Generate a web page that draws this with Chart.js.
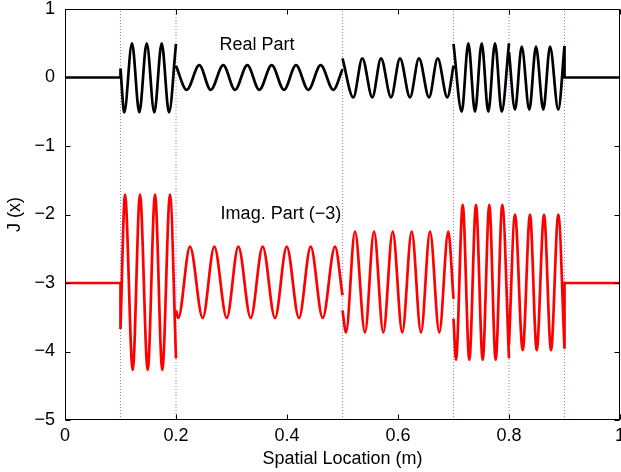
<!DOCTYPE html>
<html>
<head>
<meta charset="utf-8">
<script src="https://cdn.jsdelivr.net/npm/chart.js@4.4.1/dist/chart.umd.min.js"></script>
<style>
html, body { margin: 0; padding: 0; background: #fff; }
canvas { display: block; }
</style>
</head>
<body>
<canvas id="c" width="621" height="472"></canvas>
<script>
// ---- data ----
const xTicks = [0, 0.2, 0.4, 0.6, 0.8, 1];
const yTicks = [-5, -4, -3, -2, -1, 0, 1];
const boundaries = [0.1, 0.2, 0.5, 0.7, 0.8, 0.9];

// Real part: segments (x of read extrema / segment ends)
const realX = [
  [0, 0.1, 0.1],
  [0.1, 0.1068, 0.1207, 0.1339, 0.1472, 0.1609, 0.1742, 0.1874, 0.2],
  [0.2, 0.2193, 0.2420, 0.2625, 0.2852, 0.3063, 0.3285, 0.3501, 0.3724, 0.3946, 0.4162, 0.4384, 0.4607, 0.4834, 0.5],
  [0.5, 0.5195, 0.5357, 0.5537, 0.5694, 0.5874, 0.6036, 0.6216, 0.6378, 0.6559, 0.6715, 0.6888, 0.7],
  [0.7, 0.7148, 0.7267, 0.7387, 0.7508, 0.7627, 0.7748, 0.7869, 0.8],
  [0.8, 0.8108, 0.8229, 0.8366, 0.8486, 0.8618, 0.8739, 0.8888, 0.9],
  [0.9, 0.9, 1]
];
const realY = [
  [0, 0, 0.13],
  [0.13, -0.51, 0.50, -0.51, 0.50, -0.51, 0.50, -0.51, 0.49],
  [0.17, -0.18, 0.18, -0.18, 0.18, -0.18, 0.18, -0.18, 0.18, -0.18, 0.18, -0.18, 0.18, -0.18, 0.12],
  [0.28, -0.29, 0.28, -0.29, 0.28, -0.29, 0.28, -0.29, 0.28, -0.29, 0.28, -0.29, 0.17],
  [0.49, -0.50, 0.50, -0.50, 0.50, -0.50, 0.50, -0.50, 0.50],
  [0.37, -0.47, 0.45, -0.47, 0.45, -0.47, 0.45, -0.47, 0.46],
  [0.46, 0, 0]
];

// Imaginary part (shifted by -3)
const imagX = [
  [0, 0.1, 0.1],
  [0.1, 0.1081, 0.1220, 0.1351, 0.1490, 0.1622, 0.1753, 0.1892, 0.2],
  [0.2, 0.2041, 0.2252, 0.2481, 0.2690, 0.2914, 0.3123, 0.3346, 0.3562, 0.3784, 0.3995, 0.4216, 0.4427, 0.4643, 0.4865, 0.5],
  [0.5, 0.5063, 0.5225, 0.5405, 0.5568, 0.5735, 0.5905, 0.6077, 0.6247, 0.6414, 0.6577, 0.6744, 0.6906, 0.7],
  [0.7, 0.7045, 0.7166, 0.7285, 0.7405, 0.7526, 0.7645, 0.7760, 0.7879, 0.8],
  [0.8, 0.8108, 0.8247, 0.8378, 0.8499, 0.8631, 0.8757, 0.8888, 0.9],
  [0.9, 0.9, 1]
];
const imagY = [
  [-3, -3, -3.67],
  [-3.67, -1.71, -4.27, -1.71, -4.27, -1.71, -4.27, -1.71, -4.10],
  [-3.40, -3.51, -2.47, -3.51, -2.47, -3.51, -2.47, -3.51, -2.47, -3.51, -2.47, -3.51, -2.47, -3.51, -2.47, -3.18],
  [-3.40, -3.72, -2.25, -3.72, -2.25, -3.72, -2.25, -3.72, -2.25, -3.72, -2.25, -3.72, -2.25, -3.23],
  [-3.52, -4.12, -1.86, -4.12, -1.86, -4.12, -1.86, -4.12, -1.86, -4.10],
  [-3.90, -2.00, -3.98, -2.00, -3.98, -2.00, -3.98, -2.00, -3.96],
  [-3.96, -3, -3]
];

const notes = [
  { text: 'Real Part', x: 0.346, y: 0.47 },
  { text: 'Imag. Part (\u22123)', x: 0.389, y: -2.0 }
];

// ---- build library data ----
function joinSegments(xs, ys) {
  const out = [];
  xs.forEach((seg, s) => {
    if (s > 0) out.push({ x: seg[0], y: null });
    seg.forEach((x, i) => out.push({ x: x, y: ys[s][i] }));
  });
  return out;
}
const yMin = yTicks[0], yMax = yTicks[yTicks.length - 1];
const boundaryData = [];
boundaries.forEach((b, i) => {
  if (i) boundaryData.push({ x: b, y: null });
  boundaryData.push({ x: b, y: yMin }, { x: b, y: yMax });
});

const FONT = "'Liberation Sans', Arial, Helvetica, sans-serif";
const FS = 18;
const fmt = v => String(Math.round(v * 10) / 10).replace('-', '\u2212');

const framePlugin = {
  id: 'frame',
  afterDatasetsDraw(chart) {
    const { ctx, chartArea: a, scales: { x, y } } = chart;
    ctx.save();
    ctx.strokeStyle = '#000';
    ctx.lineWidth = 1;
    const L = Math.round(a.left) + 0.5, R = Math.round(a.right) - 0.5;
    const T = Math.round(a.top) + 0.5, B = Math.round(a.bottom) - 0.5;
    ctx.strokeRect(L, T, R - L, B - T);
    ctx.beginPath();
    xTicks.forEach(v => {
      const px = Math.round(x.getPixelForValue(v)) + 0.5;
      ctx.moveTo(px, B); ctx.lineTo(px, B - 5);
      ctx.moveTo(px, T); ctx.lineTo(px, T + 5);
    });
    yTicks.forEach(v => {
      const py = Math.round(y.getPixelForValue(v)) + 0.5;
      ctx.moveTo(L, py); ctx.lineTo(L + 5, py);
      ctx.moveTo(R, py); ctx.lineTo(R - 5, py);
    });
    ctx.stroke();
    ctx.fillStyle = '#000';
    ctx.font = FS + 'px ' + FONT;
    ctx.textAlign = 'center';
    ctx.textBaseline = 'middle';
    notes.forEach(n => ctx.fillText(n.text, x.getPixelForValue(n.x), y.getPixelForValue(n.y)));
    ctx.restore();
  }
};

new Chart(document.getElementById('c'), {
  type: 'line',
  data: {
    datasets: [
      {
        label: 'Real Part',
        data: joinSegments(realX, realY),
        borderColor: '#000000',
        borderWidth: 2.7,
        pointRadius: 0,
        fill: false,
        spanGaps: false,
        cubicInterpolationMode: 'monotone',
        order: 1
      },
      {
        label: 'Imag. Part (-3)',
        data: joinSegments(imagX, imagY),
        borderColor: '#ff0000',
        borderWidth: 2.7,
        pointRadius: 0,
        fill: false,
        spanGaps: false,
        cubicInterpolationMode: 'monotone',
        order: 2
      },
      {
        label: 'boundaries',
        data: boundaryData,
        borderColor: '#8080ff',
        borderWidth: 1,
        borderDash: [1, 2],
        pointRadius: 0,
        fill: false,
        spanGaps: false,
        tension: 0,
        order: 3
      }
    ]
  },
  options: {
    responsive: false,
    animation: false,
    devicePixelRatio: 1,
    layout: { padding: { top: 9, right: 1, left: 0, bottom: 0 } },
    plugins: { legend: { display: false }, tooltip: { enabled: false } },
    scales: {
      x: {
        type: 'linear',
        min: 0, max: 1,
        afterBuildTicks: s => { s.ticks = xTicks.map(v => ({ value: v })); },
        afterFit: s => { s.height = 52; s.paddingLeft = 0; s.paddingRight = 0; },
        grid: { display: false, drawTicks: false },
        border: { display: false },
        ticks: { padding: 5, color: '#000', font: { family: FONT, size: FS }, callback: fmt, maxRotation: 0, autoSkip: false },
        title: { display: true, text: 'Spatial Location (m)', color: '#000', font: { family: FONT, size: FS }, padding: { top: 0, bottom: 2 } }
      },
      y: {
        type: 'linear',
        min: yMin, max: yMax,
        afterBuildTicks: s => { s.ticks = yTicks.map(v => ({ value: v })); },
        afterFit: s => { s.width = 65; s.paddingTop = 0; s.paddingBottom = 0; },
        grid: { display: false, drawTicks: false },
        border: { display: false },
        ticks: { padding: 10, color: '#000', font: { family: FONT, size: FS }, callback: fmt, autoSkip: false },
        title: { display: true, text: 'J (x)', color: '#000', font: { family: FONT, size: FS }, padding: { top: 4, bottom: 0 } }
      }
    }
  },
  plugins: [framePlugin]
});
</script>
</body>
</html>
